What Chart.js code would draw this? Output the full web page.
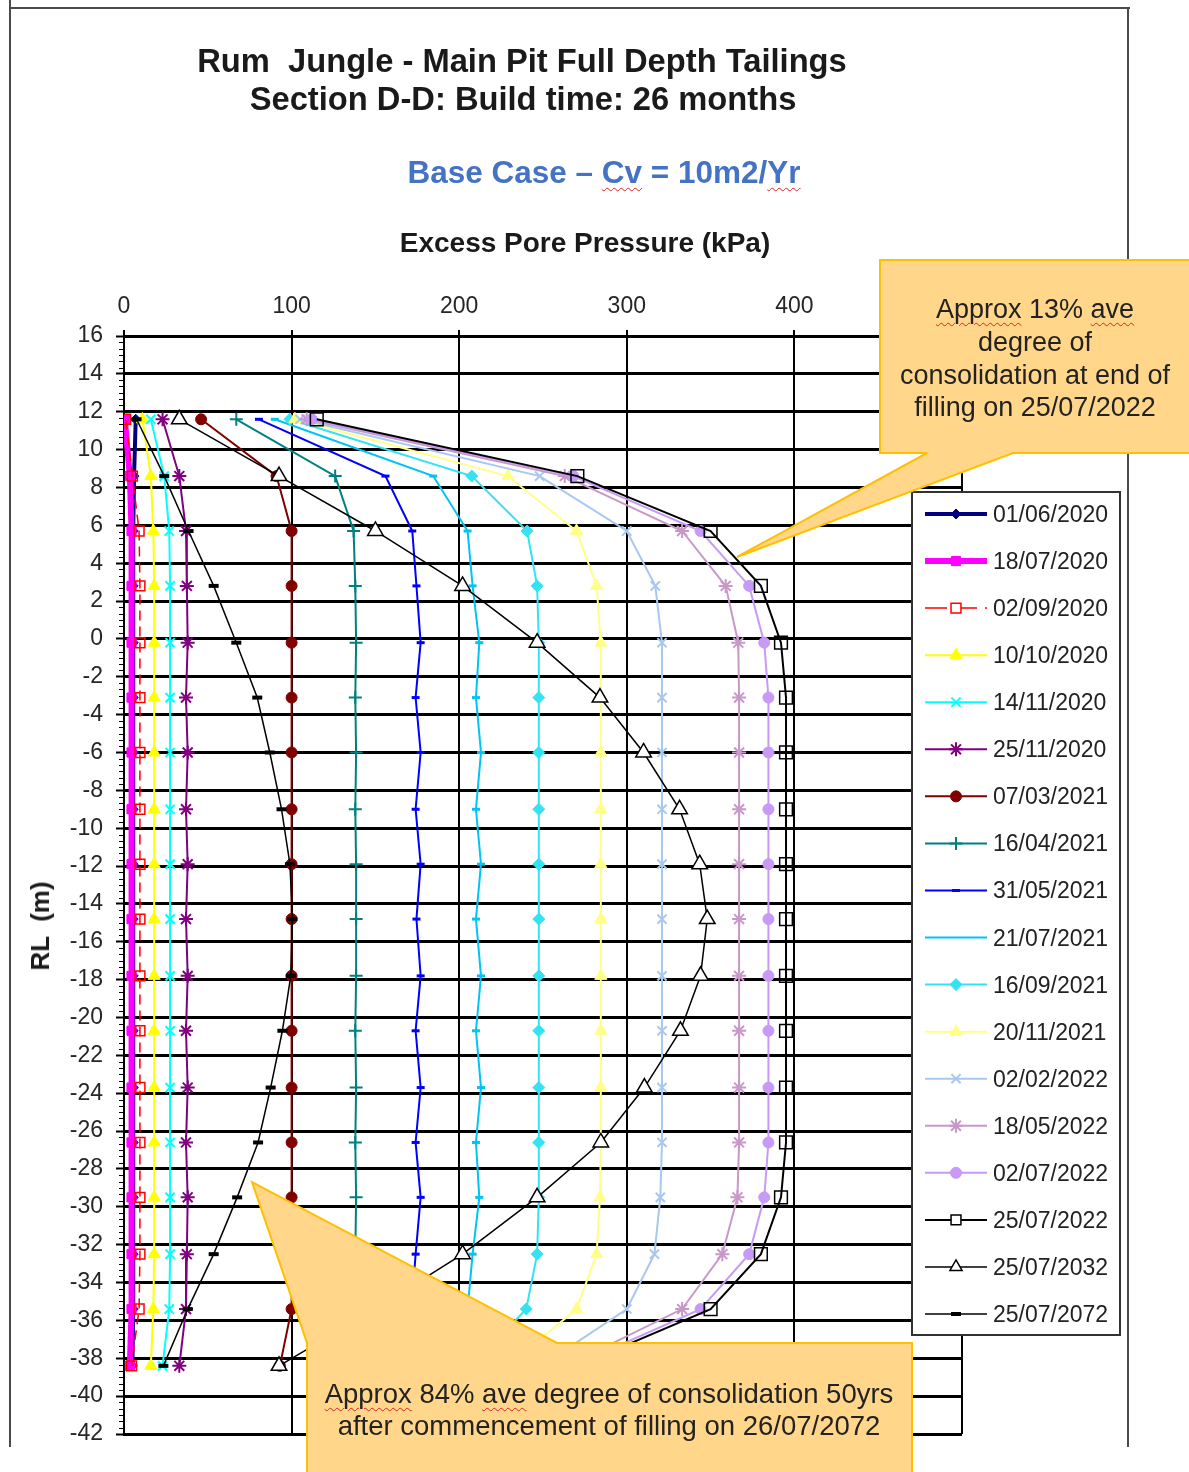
<!DOCTYPE html>
<html>
<head>
<meta charset="utf-8">
<script src="https://cdn.jsdelivr.net/npm/chart.js@4.4.1/dist/chart.umd.min.js"></script>
<style>
html,body{margin:0;padding:0;background:#fff;}
#wrap{position:relative;width:1189px;height:1472px;overflow:hidden;font-family:"Liberation Sans",Arial,sans-serif;background:#fff;}
#c{position:absolute;left:0;top:0;}
.t{position:absolute;white-space:pre;color:#1a1a1a;line-height:1;}
.ctr{transform:translate(-50%,-50%);}
.sq{text-decoration:underline wavy #e02020;text-decoration-thickness:1px;text-underline-offset:4px;}
.frame{position:absolute;background:#4a4a4a;}
.lg{position:absolute;left:993px;font-size:23px;color:#222;white-space:nowrap;transform:translateY(-50%);line-height:1;}
svg{position:absolute;left:0;top:0;}
</style>
</head>
<body>
<div id="wrap">
  <canvas id="c" width="1189" height="1472"></canvas>
  <div class="frame" style="left:9px;top:0;width:2px;height:1447px;"></div>
  <div class="frame" style="left:9px;top:7px;width:1121px;height:2px;"></div>
  <div class="frame" style="left:1127px;top:7px;width:2px;height:1440px;"></div>

  <div class="t ctr" style="left:522px;top:61px;font-size:32.7px;font-weight:bold;">Rum  Jungle - Main Pit Full Depth Tailings</div>
  <div class="t ctr" style="left:523px;top:99px;font-size:32.7px;font-weight:bold;">Section D-D: Build time: 26 months</div>
  <div class="t ctr" style="left:604px;top:173px;font-size:31.5px;font-weight:bold;color:#4472C4;">Base Case – <span class="sq">Cv</span> = 10m2/<span class="sq">Yr</span></div>
  <div class="t ctr" style="left:585px;top:243px;font-size:28px;font-weight:bold;">Excess Pore Pressure (kPa)</div>
  <div class="t" style="left:40px;top:926px;font-size:26px;font-weight:bold;transform:translate(-50%,-50%) rotate(-90deg);">RL  (m)</div>

  <div id="legendText"></div>

  <svg width="1189" height="1472" viewBox="0 0 1189 1472">
    <path d="M880,260 L1200,260 L1200,453 L1013,453 L737,557 L927,453 L880,453 Z" fill="#FFD68A" stroke="#FFC000" stroke-width="2"/>
    <path d="M307,1490 L307,1343 L252,1182 L557,1343 L912,1343 L912,1490 Z" fill="#FFD68A" stroke="#FFC000" stroke-width="2"/>
  </svg>
  <div class="t ctr" style="left:1035px;top:309px;font-size:27px;color:#222;"><span class="sq">Approx</span> 13% <span class="sq">ave</span></div>
  <div class="t ctr" style="left:1035px;top:342px;font-size:27px;color:#222;">degree of</div>
  <div class="t ctr" style="left:1035px;top:375px;font-size:27px;color:#222;">consolidation at end of</div>
  <div class="t ctr" style="left:1035px;top:407px;font-size:27px;color:#222;">filling on 25/07/2022</div>
  <div class="t ctr" style="left:609px;top:1394px;font-size:27.5px;color:#222;"><span class="sq">Approx</span> 84% <span class="sq">ave</span> degree of consolidation 50yrs</div>
  <div class="t ctr" style="left:609px;top:1426px;font-size:27.5px;color:#222;">after commencement of filling on 26/07/2072</div>
</div>

<script>
// ---------------- DATA ----------------
const depthRL = [11.6, 8.6, 5.7, 2.8, -0.2, -3.1, -6.0, -9.0, -11.9, -14.8, -17.8, -20.7, -23.7, -26.6, -29.5, -32.5, -35.4, -38.4];

const xTicks = [0, 100, 200, 300, 400];
const yTickMin = -42, yTickMax = 16, yTickStep = 2;

const seriesDates = ['01/06/2020','18/07/2020','02/09/2020','10/10/2020','14/11/2020','25/11/2020','07/03/2021','16/04/2021','31/05/2021','21/07/2021','16/09/2021','20/11/2021','02/02/2022','18/05/2022','02/07/2022','25/07/2022','25/07/2032','25/07/2072'];

const epp_2020_06_01 = [7, 6, 5.5, 5.5, 5.5, 5.5, 5.5, 5.5, 5.5, 5.5, 5.5, 5.5, 5.5, 5.5, 5.5, 5.5, 5.5, 5];
const epp_2020_07_18 = [0.5, 3.5, 4.5, 4.5, 4.5, 4.5, 4.5, 4.5, 4.5, 4.5, 4.5, 4.5, 4.5, 4.5, 4.5, 4.5, 4.5, 3.5];
const epp_2020_09_02 = [1, 5, 9, 9.5, 9.5, 9.5, 9.5, 9.5, 9.5, 9.5, 9.5, 9.5, 9.5, 9.5, 9.5, 9.5, 9, 4.5];
const epp_2020_10_10 = [11, 16, 17.5, 18, 18, 18, 18, 18, 18, 18, 18, 18, 18, 18, 18, 18, 17.5, 16];
const epp_2020_11_14 = [16, 24, 27, 27.5, 27.5, 27.5, 27.5, 27.5, 27.5, 27.5, 27.5, 27.5, 27.5, 27.5, 27.5, 27.5, 27, 23];
const epp_2020_11_25 = [23, 33, 37, 37.5, 38, 37, 38, 37, 38, 37, 38, 37, 38, 37, 38, 37.5, 37, 33];
const epp_2021_03_07 = [46, 91, 100, 100, 100, 100, 100, 100, 100, 100, 100, 100, 100, 100, 100, 100, 100, 93];
const epp_2021_04_16 = [67, 126, 137, 138, 138.5, 138, 138.5, 138, 138.5, 138.5, 138.5, 138, 138.5, 138, 138.5, 138, 137, 126];
const epp_2021_05_31 = [80.5, 156, 172, 174.5, 177, 174, 177, 174, 177, 174.5, 177, 174, 177, 174, 177, 174, 171.5, 156];
const epp_2021_07_21 = [90, 184.5, 205, 208, 212, 210, 213, 210, 213, 210, 213, 210, 213, 210, 212, 208, 205, 184.5];
const epp_2021_09_16 = [99, 207.5, 240.5, 246.5, 247.5, 247.5, 247.5, 247.5, 247.5, 247.5, 247.5, 247.5, 247.5, 247.5, 247.5, 246.5, 240, 208];
const epp_2021_11_20 = [102, 229, 270, 282, 284.5, 284.5, 284.5, 284.5, 284.5, 284.5, 284.5, 284.5, 284.5, 284.5, 284, 282, 270, 229];
const epp_2022_02_02 = [105, 248, 300, 317, 321, 321, 321, 321, 321, 321, 321, 321, 321, 321, 320, 316.5, 300, 249];
const epp_2022_05_18 = [109, 263, 333, 359, 366.5, 367, 367, 367, 367, 367, 367, 367, 367, 367, 366, 357, 333, 264];
const epp_2022_07_02 = [112, 268, 344, 373, 382, 384.5, 384.5, 384.5, 384.5, 384.5, 384.5, 384.5, 384.5, 384.5, 382, 373, 344, 268];
const epp_2022_07_25 = [115, 270.5, 350, 380, 392, 395, 395, 395, 395, 395, 395, 395, 395, 395, 392, 380, 350, 270.5];
const epp_2032_07_25 = [33, 92.5, 150, 202, 246.5, 284, 310, 331.5, 343.5, 348, 344, 332, 310.5, 284.5, 246.5, 202, 150, 92.5];
const epp_2072_07_25 = [7.5, 24, 38.5, 53.5, 67, 79.5, 87, 94, 99, 100.5, 99.5, 94.5, 87.5, 80, 67.5, 53.5, 38, 23.5];

const seriesValues = [epp_2020_06_01, epp_2020_07_18, epp_2020_09_02, epp_2020_10_10, epp_2020_11_14, epp_2020_11_25,
  epp_2021_03_07, epp_2021_04_16, epp_2021_05_31, epp_2021_07_21, epp_2021_09_16, epp_2021_11_20,
  epp_2022_02_02, epp_2022_05_18, epp_2022_07_02, epp_2022_07_25, epp_2032_07_25, epp_2072_07_25];

// ---------------- STYLES ----------------
const seriesStyle = [
  {color:'#000080', width:4, point:'rectRot', radius:5, fill:'#000080', pbw:1},
  {color:'#FF00FF', width:6, point:'rect', radius:6.5, fill:'#FF00FF', pbw:1},
  {color:'#FF0000', width:1.5, dash:[10,6], point:'rect', radius:7, fill:'rgba(255,255,255,0)', pbw:1.5},
  {color:'#FFFF00', width:2, point:'triangle', radius:7, fill:'#FFFF00', pbw:1},
  {color:'#00FFFF', width:2, point:'crossRot', radius:6.5, fill:'#00FFFF', pbw:2},
  {color:'#800080', width:2, point:'star', radius:7, fill:'#800080', pbw:2},
  {color:'#800000', width:2, point:'circle', radius:5.5, fill:'#800000', pbw:1},
  {color:'#008080', width:2, point:'cross', radius:6.5, fill:'#008080', pbw:2},
  {color:'#0000FF', width:2, point:'line', radius:4, fill:'#0000FF', pbw:3},
  {color:'#00C4F4', width:2, point:'line', radius:4, fill:'#00C4F4', pbw:3, noLegendMarker:true},
  {color:'#33E3F3', width:2, point:'rectRot', radius:6, fill:'#33E3F3', pbw:1},
  {color:'#FFFF88', width:2, point:'triangle', radius:7, fill:'#FFFF88', pbw:1},
  {color:'#A8C8F0', width:2, point:'crossRot', radius:6.5, fill:'#A8C8F0', pbw:2},
  {color:'#C898C8', width:2, point:'star', radius:7, fill:'#C898C8', pbw:2},
  {color:'#C69AF6', width:2, point:'circle', radius:5.5, fill:'#C69AF6', pbw:1},
  {color:'#000000', width:2, point:'rect', radius:9, fill:'rgba(255,255,255,0)', pbw:1.5},
  {color:'#000000', width:1.5, point:'triangle', radius:9, fill:'#FFFFFF', pbw:1.5},
  {color:'#000000', width:1.5, point:'line', radius:5, fill:'#000000', pbw:4}
];

const FONT = '"Liberation Sans", Arial, sans-serif';
const LG = {x:912, y:492, w:208, h:843, firstY:514, step:47.06, lineX0:925, lineX1:987, markX:956};

// ---------------- BUILD ----------------
const N = seriesDates.length;
const datasets = seriesDates.map((lab, k) => {
  const st = seriesStyle[k];
  return {
    label: lab,
    data: depthRL.map((d, i) => ({x: seriesValues[k][i], y: d})),
    showLine: true,
    borderColor: st.color,
    borderWidth: st.width,
    borderDash: st.dash || [],
    pointStyle: st.point,
    pointRadius: st.radius,
    pointBackgroundColor: st.fill,
    pointBorderColor: st.color,
    pointBorderWidth: st.pbw,
    tension: 0,
    order: N - k
  };
});

// legend labels as HTML text
const lt = document.getElementById('legendText');
seriesDates.forEach((lab, k) => {
  const d = document.createElement('div');
  d.className = 'lg';
  d.style.top = (LG.firstY + k * LG.step) + 'px';
  d.textContent = lab;
  lt.appendChild(d);
});

const minorTicks = {
  id: 'minorTicks',
  afterDraw(chart) {
    const ys = chart.scales.y, ctx = chart.ctx;
    const left = chart.chartArea.left;
    ctx.save();
    ctx.strokeStyle = '#000'; ctx.lineWidth = 1;
    for (let v = yTickMin; v <= yTickMax + 1e-6; v += yTickStep / 6) {
      const r = Math.round(v * 3) / 3;
      if (Math.abs(r / yTickStep - Math.round(r / yTickStep)) < 1e-6) continue;
      const p = Math.round(ys.getPixelForValue(r)) + 0.5;
      ctx.beginPath(); ctx.moveTo(left - 5, p); ctx.lineTo(left, p); ctx.stroke();
    }
    ctx.restore();
  }
};

const boxLegend = {
  id: 'boxLegend',
  afterDraw(chart) {
    const ctx = chart.ctx;
    ctx.save();
    ctx.fillStyle = '#fff';
    ctx.fillRect(LG.x, LG.y, LG.w, LG.h);
    ctx.strokeStyle = '#333'; ctx.lineWidth = 2;
    ctx.strokeRect(LG.x, LG.y, LG.w, LG.h);
    seriesStyle.forEach((st, k) => {
      const cy = LG.firstY + k * LG.step;
      ctx.strokeStyle = st.color; ctx.lineWidth = st.width;
      ctx.setLineDash(st.dash ? [22, 8] : []);
      ctx.beginPath(); ctx.moveTo(LG.lineX0, cy); ctx.lineTo(LG.lineX1, cy); ctx.stroke();
      ctx.setLineDash([]);
      if (!st.noLegendMarker && Chart.helpers && Chart.helpers.drawPoint) {
        ctx.fillStyle = st.fill === 'rgba(255,255,255,0)' ? '#fff' : st.fill;
        ctx.strokeStyle = st.color; ctx.lineWidth = st.pbw;
        Chart.helpers.drawPoint(ctx, {pointStyle: st.point, radius: Math.min(st.radius, 7), borderWidth: st.pbw, rotation: 0}, LG.markX, cy);
      }
    });
    ctx.restore();
  }
};

new Chart(document.getElementById('c'), {
  type: 'scatter',
  data: {datasets},
  plugins: [minorTicks, boxLegend],
  options: {
    responsive: false,
    animation: false,
    devicePixelRatio: 1,
    layout: {padding: {left: 44, right: 227, top: 286, bottom: 38}},
    plugins: {legend: {display: false}, tooltip: {enabled: false}, title: {display: false}},
    scales: {
      x: {
        type: 'linear', position: 'top', min: 0, max: 500,
        afterBuildTicks(s) { s.ticks = [...xTicks, 500].map(v => ({value: v})); },
        afterFit(s) { s.height = 50; },
        ticks: {color: '#262626', font: {family: FONT, size: 23}, padding: 10, maxRotation: 0,
                callback: v => (xTicks.includes(v) ? String(v) : '')},
        grid: {color: '#000', lineWidth: 2, tickLength: 6, tickColor: '#000', tickWidth: 2},
        border: {color: '#000', width: 3}
      },
      y: {
        type: 'linear', min: yTickMin, max: yTickMax,
        afterFit(s) { s.width = 80; },
        ticks: {stepSize: yTickStep, color: '#262626', font: {family: FONT, size: 23}, padding: 13, autoSkip: false},
        grid: {color: '#000', lineWidth: 3, tickLength: 8, tickColor: '#000', tickWidth: 2},
        border: {color: '#000', width: 2}
      }
    }
  }
});
</script>
</body>
</html>
